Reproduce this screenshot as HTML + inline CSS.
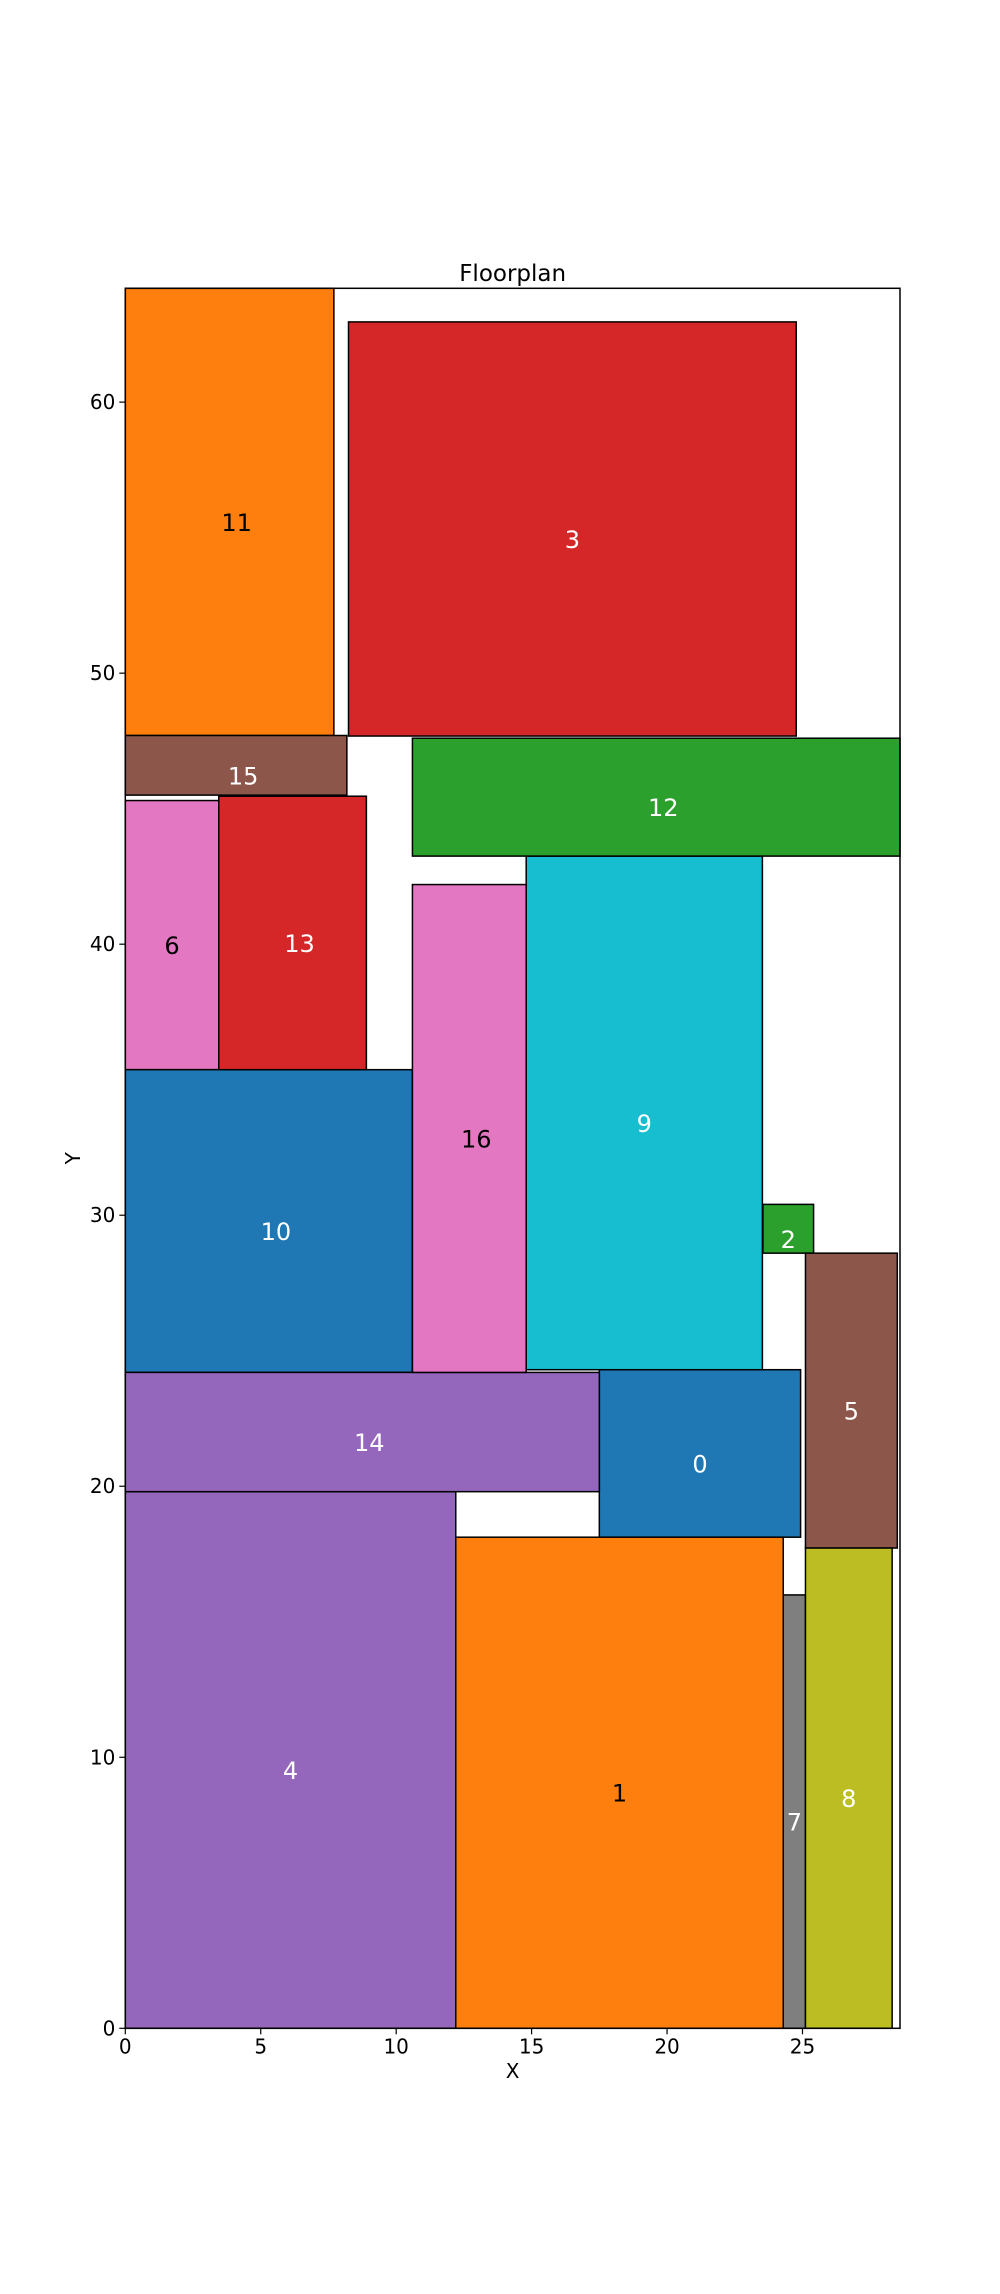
<!DOCTYPE html>
<html><head><meta charset="utf-8"><style>
body{margin:0;background:#fff}
svg{display:block;font-family:"DejaVu Sans","Liberation Sans",sans-serif}
</style></head><body>
<svg id="chart" width="1000" height="2294" viewBox="0 0 1000 2294"></svg>
<script>
const roomIds = ["0","1","2","3","4","5","6","7","8","9","10","11","12","13","14","15","16"];
const roomX = [17.5,12.2,23.54,8.24,0,25.11,0,24.29,25.11,14.8,0,0,10.6,3.45,0,0,10.6];
const roomY = [18.12,0,28.6,47.68,0,17.72,35.37,0,0,24.3,24.2,47.7,43.25,35.37,19.8,45.5,24.2];
const roomW = [7.43,12.09,1.87,16.53,12.2,3.39,3.45,0.82,3.2,8.72,10.6,7.7,18.0,5.45,17.5,8.18,4.2];
const roomH = [6.18,18.12,1.8,15.28,19.8,10.88,9.93,15.99,17.72,18.95,11.17,16.5,4.35,10.09,4.4,2.2,18.0];
const textColors = ["#fff","#000","#fff","#fff","#fff","#fff","#000","#fff","#fff","#fff","#fff","#000","#fff","#fff","#fff","#fff","#000"];
const xTicks = [0,5,10,15,20,25];
const yTicks = [0,10,20,30,40,50,60];
const tab10 = ["#1f77b4","#ff7f0e","#2ca02c","#d62728","#9467bd","#8c564b","#e377c2","#7f7f7f","#bcbd22","#17becf"];
const L=125.3,R=900,T=288.3,B=2028.3,XMAX=28.6,YMAX=64.2;
const sx=v=>L+v*(R-L)/XMAX, sy=v=>B-v*(B-T)/YMAX;
const svg=document.getElementById('chart');const NS="http://www.w3.org/2000/svg";
function mk(t,a){const e=document.createElementNS(NS,t);for(const k in a)e.setAttribute(k,a[k]);svg.appendChild(e);return e;}
roomIds.forEach((id,i)=>{
  const r=mk('rect',{x:sx(roomX[i]),y:sy(roomY[i]+roomH[i]),width:sx(roomX[i]+roomW[i])-sx(roomX[i]),height:sy(roomY[i])-sy(roomY[i]+roomH[i]),fill:tab10[i%10],stroke:'#000','stroke-width':1.5});
  
  
});
roomIds.forEach((id,i)=>{
  const dx=id.length>1?7:0;
  const t=mk('text',{x:sx(roomX[i]+roomW[i]/2)+dx,y:sy(roomY[i]+roomH[i]/2)+19,'text-anchor':'middle','font-size':24,fill:textColors[i]});
  t.textContent=id;
  
  
});
const fr=mk('rect',{x:L,y:T,width:R-L,height:B-T,fill:'none',stroke:'#000','stroke-width':1.5});


xTicks.forEach(v=>{
  mk('line',{x1:sx(v),x2:sx(v),y1:B,y2:B+6,stroke:'#000','stroke-width':1.2});
  const t=mk('text',{x:sx(v),y:B+25,'text-anchor':'middle','font-size':20});t.textContent=v;
  
  
});
yTicks.forEach(v=>{
  mk('line',{x1:L-6,x2:L,y1:sy(v),y2:sy(v),stroke:'#000','stroke-width':1.2});
  const t=mk('text',{x:L-10,y:sy(v)+7,'text-anchor':'end','font-size':20});t.textContent=v;
  
  
});
const ti=mk('text',{x:(L+R)/2,y:281,'text-anchor':'middle','font-size':23});ti.textContent='Floorplan';


const xl=mk('text',{x:(L+R)/2,y:2078,'text-anchor':'middle','font-size':20});xl.textContent='X';


const yl=mk('text',{x:80,y:(T+B)/2,'text-anchor':'middle','font-size':20,transform:`rotate(-90 80 ${(T+B)/2})`});yl.textContent='Y';


</script>
</body></html>
